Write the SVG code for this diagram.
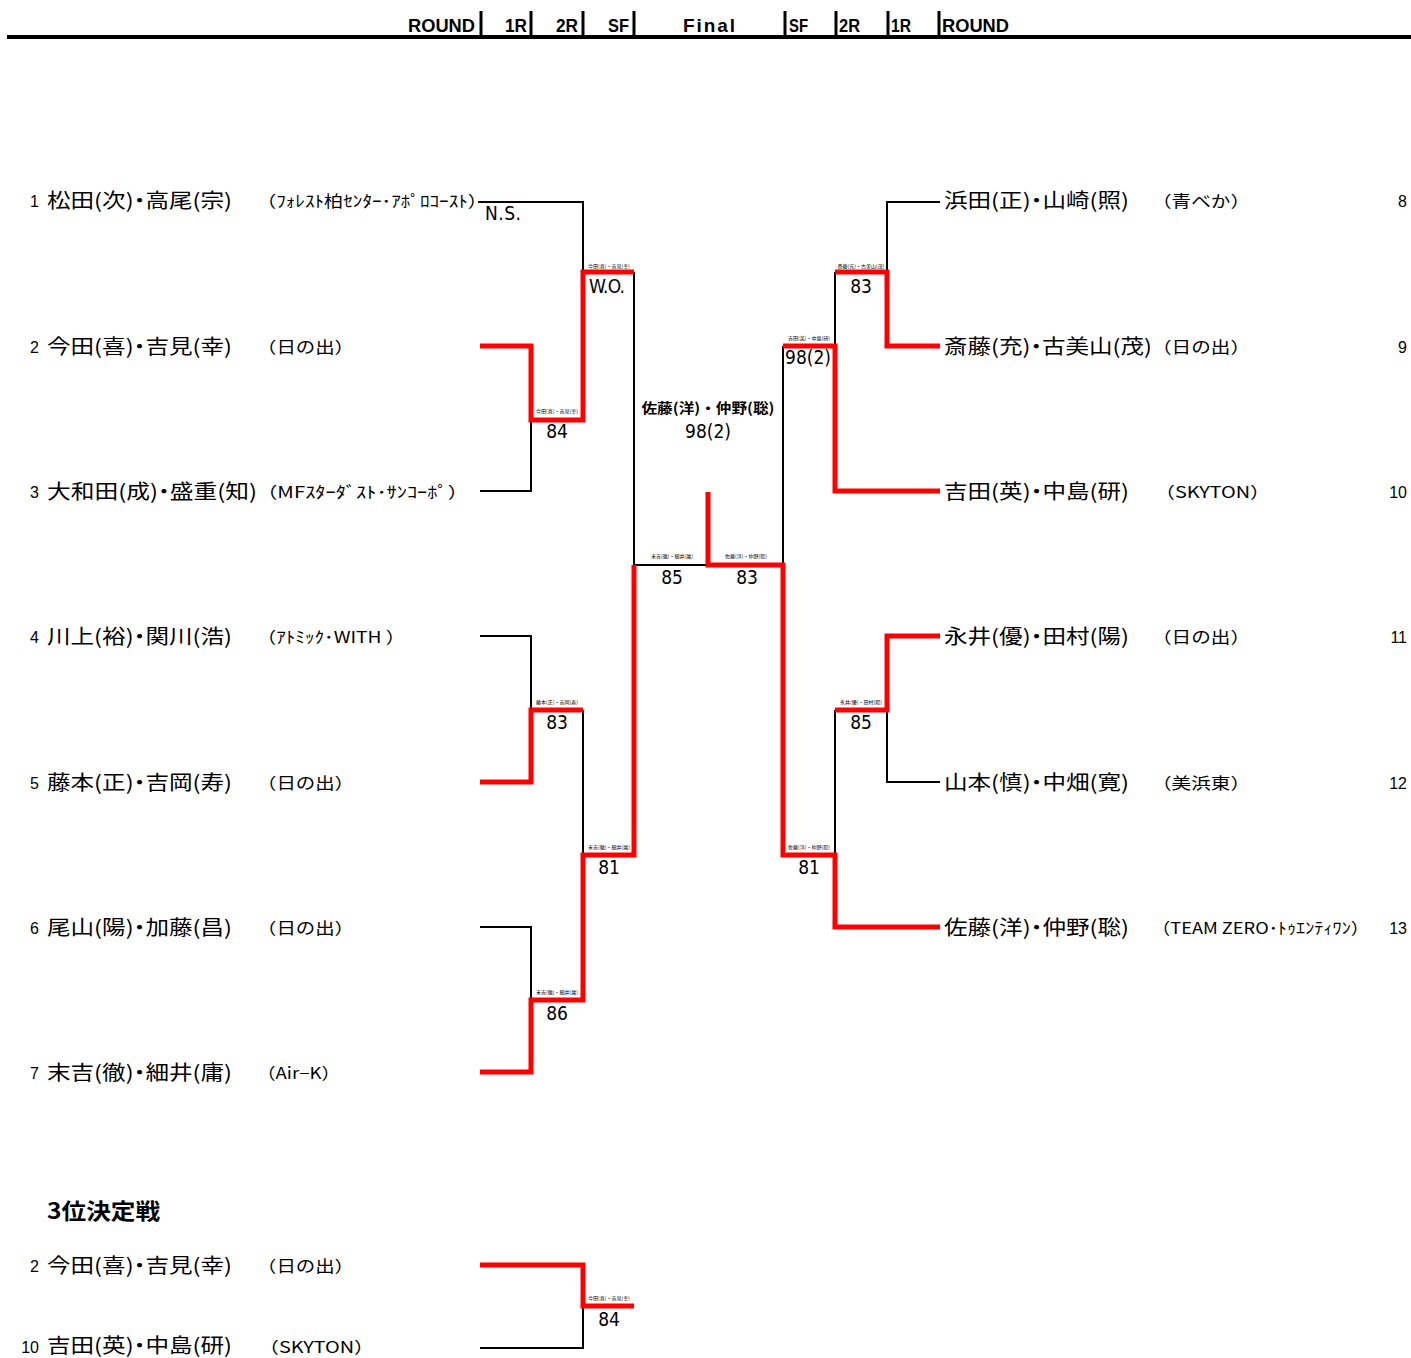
<svg xmlns="http://www.w3.org/2000/svg" width="1411" height="1358" viewBox="0 0 1411 1358">
<style>
.b{stroke:#000;stroke-width:2;fill:none}
.r{stroke:#f00;stroke-width:5;fill:none;stroke-linejoin:miter}
.hb{stroke:#000;stroke-width:3;fill:none}
text{font-family:"Noto Sans CJK JP","Liberation Sans",sans-serif;fill:#000}
.h{font-family:"Liberation Sans",sans-serif;font-weight:bold;font-size:19px}
.name{font-size:20px;font-feature-settings:"palt" 1}
.team{font-size:16px}
.seed{font-family:"Liberation Sans",sans-serif;font-size:16px;text-anchor:end}
.sc{font-family:"DejaVu Sans Condensed","Liberation Sans",sans-serif;font-size:19px;text-anchor:middle}
.tiny{font-size:5px;text-anchor:middle}
</style>
<rect width="1411" height="1358" fill="#fff"/>
<g id="header">
<line x1="7" y1="37" x2="1411" y2="37" stroke="#000" stroke-width="4"/>
<g class="hb">
<line x1="481" y1="11" x2="481" y2="37"/><line x1="531" y1="11" x2="531" y2="37"/><line x1="583" y1="11" x2="583" y2="37"/><line x1="634" y1="11" x2="634" y2="37"/>
<line x1="785" y1="11" x2="785" y2="37"/><line x1="836" y1="11" x2="836" y2="37"/><line x1="888" y1="11" x2="888" y2="37"/><line x1="939" y1="11" x2="939" y2="37"/>
</g>
<text class="h" x="408" y="32" textLength="67" lengthAdjust="spacingAndGlyphs">ROUND</text>
<text class="h" x="505" y="32" textLength="22" lengthAdjust="spacingAndGlyphs">1R</text>
<text class="h" x="556" y="32" textLength="22" lengthAdjust="spacingAndGlyphs">2R</text>
<text class="h" x="608" y="32" textLength="21" lengthAdjust="spacingAndGlyphs">SF</text>
<text class="h" x="683" y="32" textLength="52" lengthAdjust="spacing">Final</text>
<text class="h" x="789" y="32" textLength="19" lengthAdjust="spacingAndGlyphs">SF</text>
<text class="h" x="839" y="32" textLength="21" lengthAdjust="spacingAndGlyphs">2R</text>
<text class="h" x="891" y="32" textLength="20" lengthAdjust="spacingAndGlyphs">1R</text>
<text class="h" x="942" y="32" textLength="67" lengthAdjust="spacingAndGlyphs">ROUND</text>
</g>
<g id="connectors">
<polyline class="b" points="478,202 583,202 583,272"/>
<polyline class="b" points="480,491 531,491 531,420"/>
<polyline class="b" points="634,272 634,565 708,565"/>
<polyline class="b" points="480,636 531,636 531,710"/>
<polyline class="b" points="583,710 583,855"/>
<polyline class="b" points="480,927 531,927 531,1000"/>
<polyline class="b" points="783,346 783,565"/>
<polyline class="b" points="940,202 887,202 887,272"/>
<polyline class="b" points="835,272 835,346"/>
<polyline class="b" points="940,782 887,782 887,710"/>
<polyline class="b" points="835,710 835,855"/>
<polyline class="b" points="480,1348 583,1348 583,1306"/>
<polyline class="r" points="480,346 531,346 531,420 583,420 583,272 634,272"/>
<polyline class="r" points="480,782 531,782 531,710 583,710"/>
<polyline class="r" points="480,1072 531,1072 531,1000 583,1000 583,855 634,855 634,565"/>
<polyline class="r" points="708,492 708,565 783,565 783,855 835,855 835,927 940,927"/>
<polyline class="r" points="940,346 887,346 887,272 835,272"/>
<polyline class="r" points="940,491 835,491 835,346 783,346"/>
<polyline class="r" points="940,636 887,636 887,710 835,710"/>
<polyline class="r" points="480,1265 583,1265 583,1306 634,1306"/>
</g>
<g id="p1"><text class="seed" x="39" y="207">1</text><text class="name" x="47" y="208" textLength="185" lengthAdjust="spacingAndGlyphs">松田(次)・高尾(宗)</text><text class="team" x="257" y="207" textLength="230" lengthAdjust="spacingAndGlyphs">（ﾌｫﾚｽﾄ柏ｾﾝﾀｰ･ｱﾎﾟﾛｺｰｽﾄ）</text></g>
<g id="p2"><text class="seed" x="39" y="353">2</text><text class="name" x="47" y="354" textLength="185" lengthAdjust="spacingAndGlyphs">今田(喜)・吉見(幸)</text><text class="team" x="257" y="353" textLength="97" lengthAdjust="spacingAndGlyphs">（日の出）</text></g>
<g id="p3"><text class="seed" x="39" y="498">3</text><text class="name" x="47" y="499" textLength="210" lengthAdjust="spacingAndGlyphs">大和田(成)・盛重(知)</text><text class="team" x="257" y="498" textLength="211" lengthAdjust="spacingAndGlyphs">（MFｽﾀｰﾀﾞｽﾄ･ｻﾝｺｰﾎﾟ）</text></g>
<g id="p4"><text class="seed" x="39" y="643">4</text><text class="name" x="47" y="644" textLength="185" lengthAdjust="spacingAndGlyphs">川上(裕)・関川(浩)</text><text class="team" x="257" y="643" textLength="148" lengthAdjust="spacingAndGlyphs">（ｱﾄﾐｯｸ･WITH ）</text></g>
<g id="p5"><text class="seed" x="39" y="789">5</text><text class="name" x="47" y="790" textLength="185" lengthAdjust="spacingAndGlyphs">藤本(正)・吉岡(寿)</text><text class="team" x="257" y="789" textLength="97" lengthAdjust="spacingAndGlyphs">（日の出）</text></g>
<g id="p6"><text class="seed" x="39" y="934">6</text><text class="name" x="47" y="935" textLength="185" lengthAdjust="spacingAndGlyphs">尾山(陽)・加藤(昌)</text><text class="team" x="257" y="934" textLength="97" lengthAdjust="spacingAndGlyphs">（日の出）</text></g>
<g id="p7"><text class="seed" x="39" y="1079">7</text><text class="name" x="47" y="1080" textLength="185" lengthAdjust="spacingAndGlyphs">末吉(徹)・細井(庸)</text><text class="team" x="257" y="1079" textLength="83" lengthAdjust="spacingAndGlyphs">（Air−K）</text></g>
<g id="p8"><text class="name" x="944" y="208" textLength="185" lengthAdjust="spacingAndGlyphs">浜田(正)・山崎(照)</text><text class="team" x="1152" y="207" textLength="98" lengthAdjust="spacingAndGlyphs">（青べか）</text><text class="seed" x="1407" y="207">8</text></g>
<g id="p9"><text class="name" x="944" y="354" textLength="208" lengthAdjust="spacingAndGlyphs">斎藤(充)・古美山(茂)</text><text class="team" x="1152" y="353" textLength="98" lengthAdjust="spacingAndGlyphs">（日の出）</text><text class="seed" x="1407" y="353">9</text></g>
<g id="p10"><text class="name" x="944" y="499" textLength="185" lengthAdjust="spacingAndGlyphs">吉田(英)・中島(研)</text><text class="team" x="1155" y="498" textLength="115" lengthAdjust="spacingAndGlyphs">（SKYTON）</text><text class="seed" x="1407" y="498">10</text></g>
<g id="p11"><text class="name" x="944" y="644" textLength="185" lengthAdjust="spacingAndGlyphs">永井(優)・田村(陽)</text><text class="team" x="1152" y="643" textLength="98" lengthAdjust="spacingAndGlyphs">（日の出）</text><text class="seed" x="1407" y="643">11</text></g>
<g id="p12"><text class="name" x="944" y="790" textLength="185" lengthAdjust="spacingAndGlyphs">山本(慎)・中畑(寛)</text><text class="team" x="1152" y="789" textLength="98" lengthAdjust="spacingAndGlyphs">（美浜東）</text><text class="seed" x="1407" y="789">12</text></g>
<g id="p13"><text class="name" x="944" y="935" textLength="185" lengthAdjust="spacingAndGlyphs">佐藤(洋)・仲野(聡)</text><text class="team" x="1152" y="934" textLength="217" lengthAdjust="spacingAndGlyphs">（TEAM ZERO･ﾄｩｴﾝﾃｨﾜﾝ）</text><text class="seed" x="1407" y="934">13</text></g>
<g id="results">
<text class="sc" x="503" y="220" textLength="36" lengthAdjust="spacing">N.S.</text>
<text class="tiny" x="609" y="268">今田(喜)・吉見(幸)</text>
<text class="sc" x="607" y="293" textLength="36" lengthAdjust="spacing">W.O.</text>
<text class="tiny" x="557" y="413">今田(喜)・吉見(幸)</text>
<text class="sc" x="557" y="438">84</text>
<text class="tiny" x="557" y="704">藤本(正)・吉岡(寿)</text>
<text class="sc" x="557" y="729">83</text>
<text class="tiny" x="609" y="849">末吉(徹)・細井(庸)</text>
<text class="sc" x="609" y="874">81</text>
<text class="tiny" x="557" y="994">末吉(徹)・細井(庸)</text>
<text class="sc" x="557" y="1020">86</text>
<text class="tiny" x="672" y="558">末吉(徹)・細井(庸)</text>
<text class="sc" x="672" y="584">85</text>
<text class="tiny" x="746" y="558">佐藤(洋)・仲野(聡)</text>
<text class="sc" x="747" y="584">83</text>
<text class="tiny" x="861" y="268">斎藤(充)・古美山(茂)</text>
<text class="sc" x="861" y="293">83</text>
<text class="tiny" x="809" y="340">吉田(英)・中島(研)</text>
<text class="sc" x="808" y="364">98(2)</text>
<text class="tiny" x="861" y="704">永井(優)・田村(陽)</text>
<text class="sc" x="861" y="729">85</text>
<text class="tiny" x="809" y="849">佐藤(洋)・仲野(聡)</text>
<text class="sc" x="809" y="874">81</text>
</g>
<g id="champion">
<text x="708" y="413" font-size="14" font-weight="bold" text-anchor="middle" textLength="133" lengthAdjust="spacingAndGlyphs">佐藤(洋)・仲野(聡)</text>
<text class="sc" x="708" y="438">98(2)</text>
</g>
<g id="third">
<text x="47" y="1219" font-size="22" font-weight="bold" textLength="113" lengthAdjust="spacingAndGlyphs">3位決定戦</text>
<g id="t2"><text class="seed" x="39" y="1272">2</text><text class="name" x="47" y="1273" textLength="185" lengthAdjust="spacingAndGlyphs">今田(喜)・吉見(幸)</text><text class="team" x="257" y="1272" textLength="97" lengthAdjust="spacingAndGlyphs">（日の出）</text></g>
<g id="t10"><text class="seed" x="39" y="1353">10</text><text class="name" x="47" y="1353" textLength="185" lengthAdjust="spacingAndGlyphs">吉田(英)・中島(研)</text><text class="team" x="259" y="1353" textLength="115" lengthAdjust="spacingAndGlyphs">（SKYTON）</text></g>
<text class="tiny" x="609" y="1300">今田(喜)・吉見(幸)</text>
<text class="sc" x="609" y="1326">84</text>
</g>
</svg>
